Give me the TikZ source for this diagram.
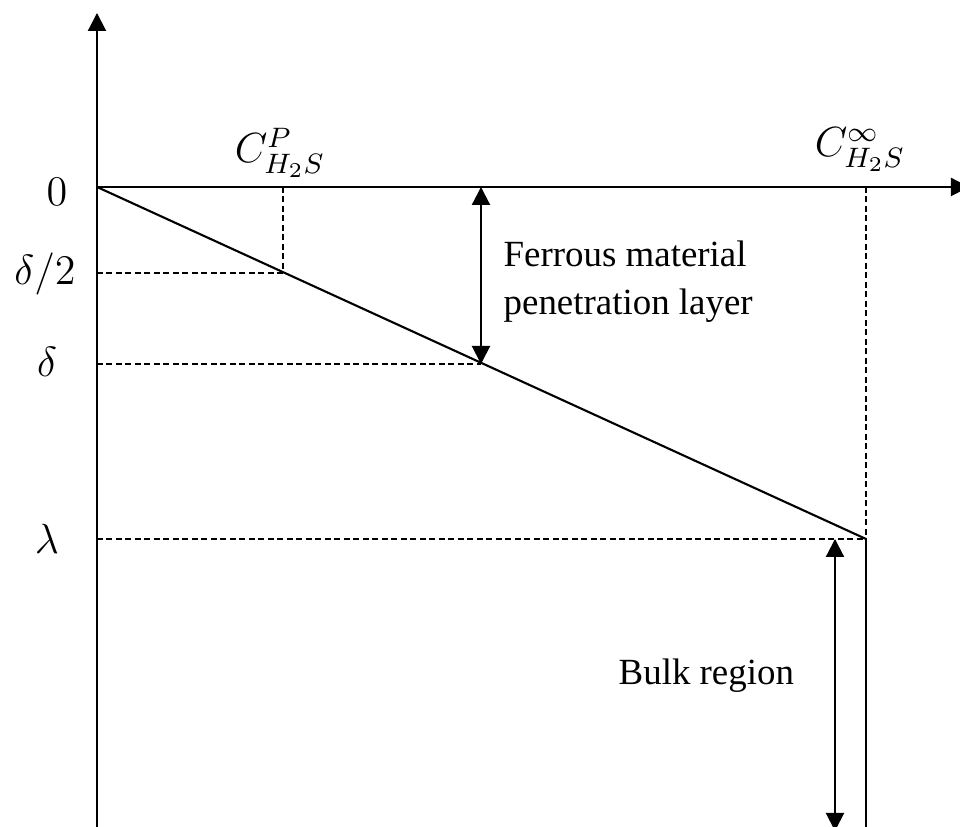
\documentclass[tikz,border=0pt]{standalone}
\usepackage{fontspec}
\setmainfont{Liberation Serif}
\usepackage{tikz}
\usetikzlibrary{arrows.meta}
\tikzset{
  axis/.style={-{Triangle[length=1.8mm,width=1.8mm]},line width=0.6pt},
  profile/.style={line width=0.6pt},
  guide/.style={dash pattern=on 0.6mm off 0.35mm,line width=0.55pt},
  span/.style={{Triangle[length=1.8mm,width=1.8mm]}-{Triangle[length=1.8mm,width=1.8mm]},line width=0.6pt},
  ticklabel/.style={font=\fontsize{13}{15}\selectfont,inner sep=0pt},
  conclabel/.style={font=\fontsize{11.5}{14}\selectfont,inner sep=0pt,anchor=south},
  regionlabel/.style={font=\fontsize{10.5}{13.6}\selectfont,align=left,inner sep=0pt}
}

\begin{document}
\begin{tikzpicture}
  \useasboundingbox (-0.97,-6.40) rectangle (8.63,1.87);

  \coordinate (O) at (0,0);
  \coordinate (ytop) at (0,1.74);
  \coordinate (ybot) at (0,-6.40);
  \coordinate (xend) at (8.72,0);
  \coordinate (cp) at (1.86,0);
  \coordinate (cinf) at (7.69,0);
  \coordinate (ftop) at (3.84,0);
  \coordinate (yhalf) at (0,-0.86);
  \coordinate (ydelta) at (0,-1.77);
  \coordinate (ylam) at (0,-3.52);
  \coordinate (half) at (1.86,-0.86);
  \coordinate (delta) at (3.84,-1.77);
  \coordinate (lam) at (7.69,-3.52);
  \coordinate (rbot) at (7.69,-6.40);
  \coordinate (btop) at (7.38,-3.52);
  \coordinate (bbot) at (7.38,-6.44);

  \draw[axis] (ybot) -- (ytop);
  \draw[axis] (O) -- (xend);
  \draw[profile] (O) -- (lam);
  \draw[profile] (lam) -- (rbot);

  \draw[guide] (cp) -- (half);
  \draw[guide] (yhalf) -- (half);
  \draw[guide] (ydelta) -- (delta);
  \draw[guide] (cinf) -- (lam);
  \draw[guide] (ylam) -- (lam);

  \draw[span] (ftop) -- (delta);
  \draw[span] (btop) -- (bbot);

  \node[ticklabel] (lab0) at (-0.40,-0.05) {$0$};
  \node[ticklabel] (labhalf) at (-0.52,-0.87) {$\delta/2$};
  \node[ticklabel] (labdelta) at (-0.50,-1.75) {$\delta$};
  \node[ticklabel] (lablam) at (-0.50,-3.52) {$\lambda$};
  \node[conclabel] (labcp) at (1.83,0.09) {$C^{P}_{H_2S}$};
  \node[conclabel] (labcinf) at (7.63,0.15) {$C^{\infty}_{H_2S}$};

  \node[regionlabel,anchor=north west] (ferrous) at (4.06,-0.53) {Ferrous material\\penetration layer};
  \node[regionlabel,anchor=base west] (bulk) at (5.21,-4.98) {Bulk region};
\end{tikzpicture}
\end{document}
